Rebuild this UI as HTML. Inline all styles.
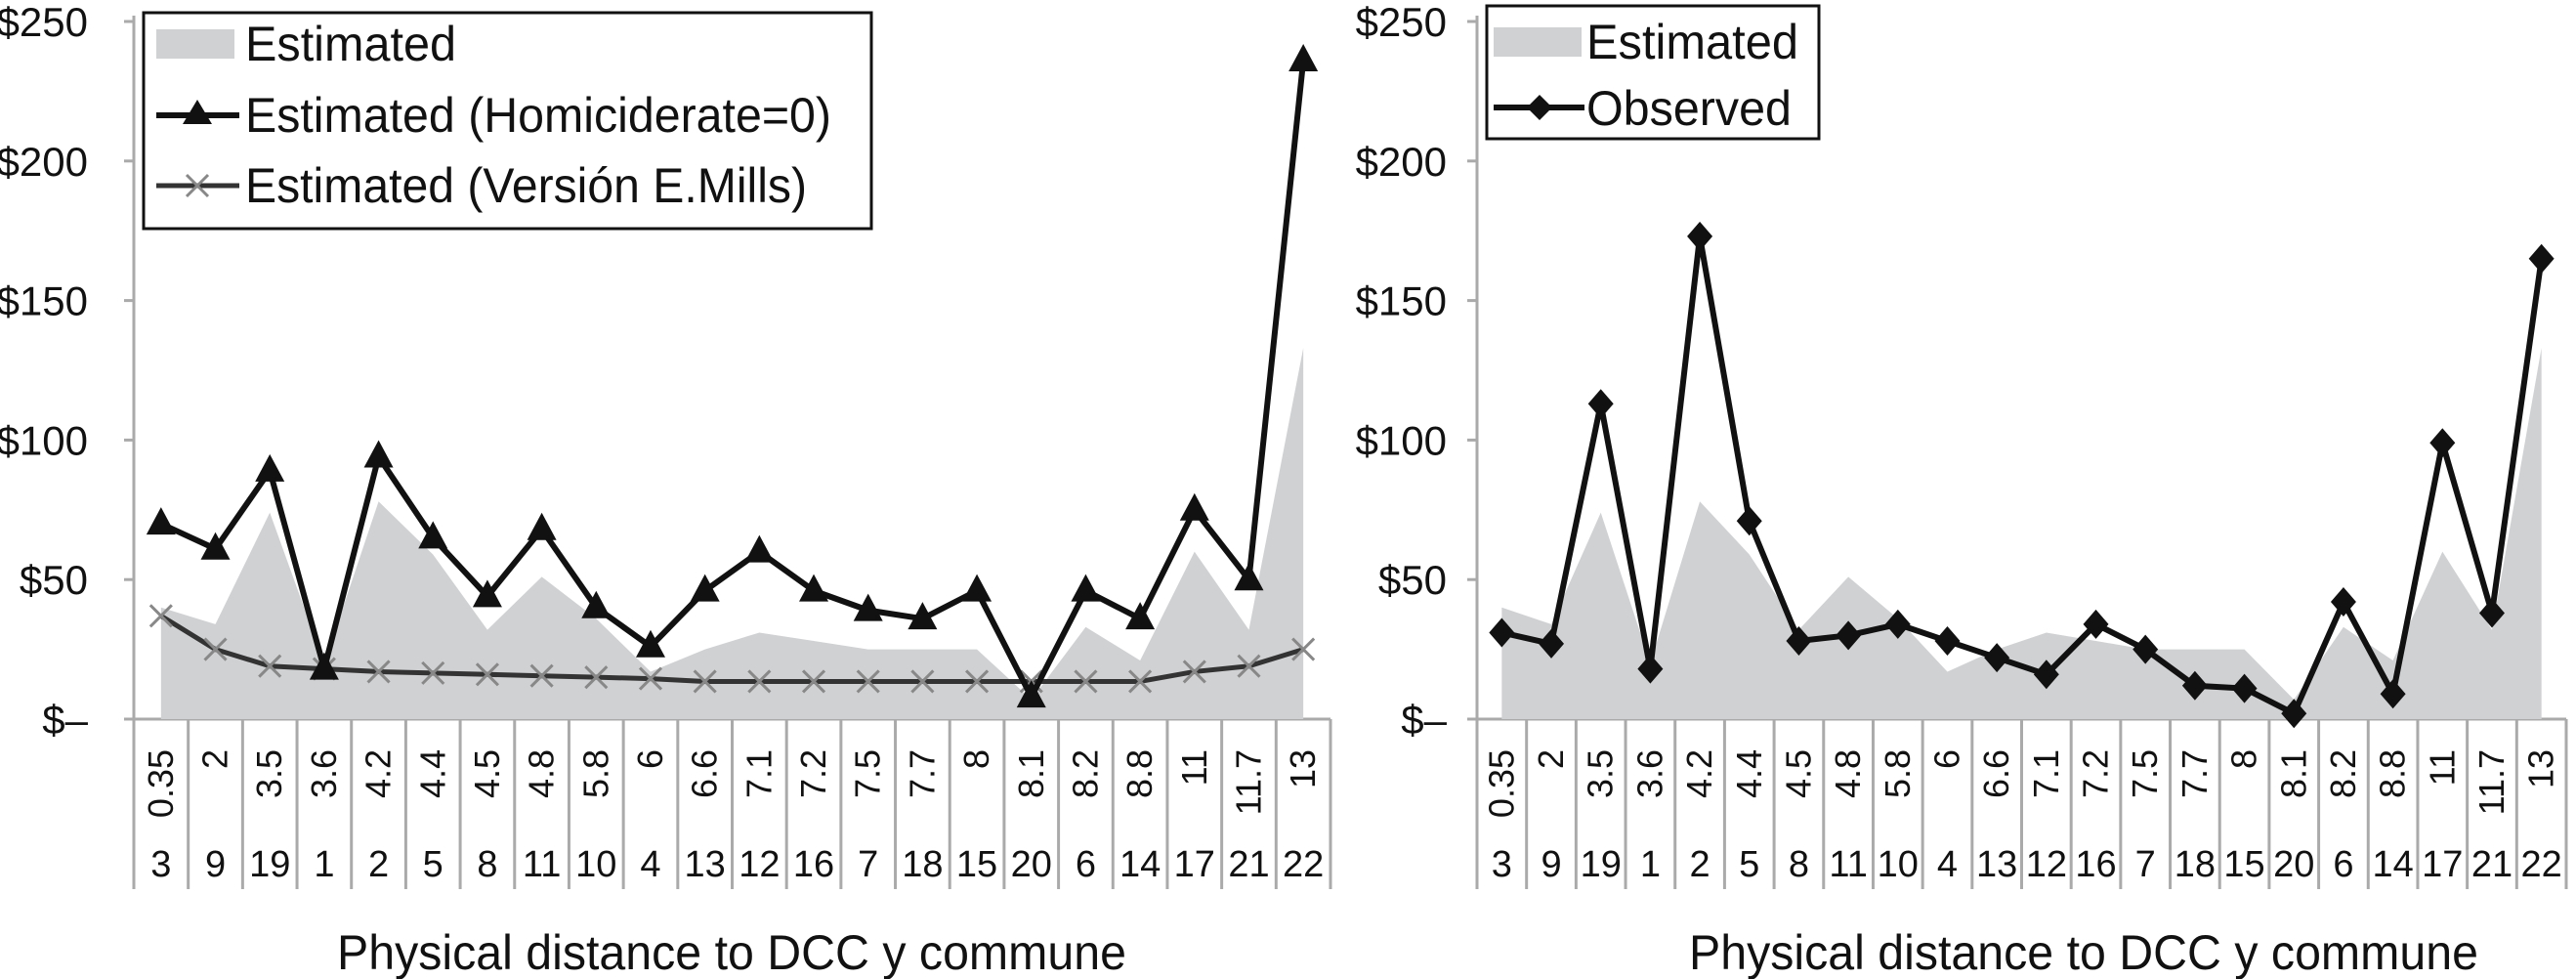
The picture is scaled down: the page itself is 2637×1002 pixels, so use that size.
<!DOCTYPE html>
<html><head><meta charset="utf-8"><style>
html,body{margin:0;padding:0;background:#fff;}
svg{display:block;font-family:"Liberation Sans",Arial,sans-serif;}
</style></head><body>
<svg id="chart" width="2637" height="1002" viewBox="0 0 2637 1002" xmlns="http://www.w3.org/2000/svg"></svg>
<script>
const distances = ["0.35","2","3.5","3.6","4.2","4.4","4.5","4.8","5.8","6","6.6","7.1","7.2","7.5","7.7","8","8.1","8.2","8.8","11","11.7","13"];
const communes = ["3","9","19","1","2","5","8","11","10","4","13","12","16","7","18","15","20","6","14","17","21","22"];
const estimated = [40,34,74,20,78,59,32,51,36,17,25,31,28,25,25,25,7,33,21,60,32,133];
const homicide0 = [70,61,89,18,94,65,44,68,40,26,46,60,46,39,36,46,8,46,36,75,50,236];
const mills = [37,25,19,18,17,16.5,16,15.5,15,14.5,13.5,13.5,13.5,13.5,13.5,13.5,13.5,13.5,13.5,17,19,25];
const observed = [31,27,113,18,173,71,28,30,34,28,22,16,34,25,12,11,2,42,9,99,38,165];
const yTicks = [0,50,100,150,200,250];
const yTickLabels = ["$\u2013","$50","$100","$150","$200","$250"];

const NS="http://www.w3.org/2000/svg";
const svg=document.getElementById('chart');
function mk(tag,attrs,parent){const e=document.createElementNS(NS,tag);for(const k in attrs)e.setAttribute(k,attrs[k]);(parent||svg).appendChild(e);return e;}
const Y0=736,Y250=22;
function yS(v){return Y0-(Y0-Y250)*v/250;}

function panel(px0,px1,labelRight,name){
  const g=mk('g',{});
  
  
  const n=distances.length, w=(px1-px0)/n;
  const xS=i=>px0+w*(i+0.5);
  const ax=mk('line',{x1:px0,y1:Y250-6,x2:px0,y2:Y0,stroke:'#aaa','stroke-width':3},g);
  
  yTicks.forEach((t,i)=>{
    mk('line',{x1:px0-10,y1:yS(t),x2:px0,y2:yS(t),stroke:'#aaa','stroke-width':3},g);
    const tx=mk('text',{x:labelRight,y:yS(t)+15,'font-size':42,'text-anchor':'end',fill:'#111'},g);
    tx.textContent=yTickLabels[i];
    
  });
  const xa=mk('line',{x1:px0,y1:Y0,x2:px1,y2:Y0,stroke:'#aaa','stroke-width':3},g);
  
  for(let i=0;i<=n;i++){mk('line',{x1:px0+w*i,y1:Y0,x2:px0+w*i,y2:910,stroke:'#aaa','stroke-width':3},g);}
  distances.forEach((d,i)=>{
    const t=mk('text',{transform:`translate(${xS(i)+12},767) rotate(-90)`,'font-size':36,'text-anchor':'end',fill:'#111'},g);
    t.textContent=d;
    
    const c=mk('text',{x:xS(i),y:897,'font-size':38,'text-anchor':'middle',fill:'#111'},g);
    c.textContent=communes[i];
    
  });
  let p=`M${xS(0)},${Y0}`;estimated.forEach((v,i)=>p+=` L${xS(i)},${yS(v)}`);p+=` L${xS(n-1)},${Y0} Z`;
  const a=mk('path',{d:p,fill:'#d0d1d3'},g);
  
  return {g,xS,w};
}
function line(g,vals,xS,stroke,sw,name){
  const pl=mk('polyline',{points:vals.map((v,i)=>`${xS(i)},${yS(v)}`).join(' '),fill:'none',stroke:stroke,'stroke-width':sw,'stroke-linejoin':'round'},g);
  
}
const L=panel(137,1362,90,'left-panel');
line(L.g,mills,L.xS,'#333',5,'mills-line');
mills.forEach((v,i)=>{const x=L.xS(i),y=yS(v),s=11;
  const m=mk('path',{d:`M${x-s},${y-s}L${x+s},${y+s}M${x-s},${y+s}L${x+s},${y-s}`,stroke:'#888','stroke-width':3},L.g);
  });
line(L.g,homicide0,L.xS,'#111',6,'homicide0-line');
homicide0.forEach((v,i)=>{const x=L.xS(i),y=yS(v);
  const m=mk('path',{d:`M${x},${y-17}L${x+15},${y+11}L${x-15},${y+11}Z`,fill:'#111'},L.g);
  });
const R=panel(1512,2627,1481,'right-panel');
line(R.g,observed,R.xS,'#111',6,'observed-line');
observed.forEach((v,i)=>{const x=R.xS(i),y=yS(v);
  const m=mk('path',{d:`M${x},${y-15}L${x+13},${y}L${x},${y+15}L${x-13},${y}Z`,fill:'#111'},R.g);
  });

function txt(x,y,s,fs,name,len){const t=mk('text',{x:x,y:y,'font-size':fs,fill:'#111'});if(len){t.setAttribute('textLength',len);t.setAttribute('lengthAdjust','spacingAndGlyphs');}t.textContent=s;
  return t;}
const lg=mk('rect',{x:147,y:13,width:745,height:221,fill:'#fff',stroke:'#111','stroke-width':3});

mk('rect',{x:160,y:30,width:80,height:30,fill:'#d0d1d3'});
txt(251,62,'Estimated',50,'legend-estimated',216);
mk('line',{x1:160,y1:118,x2:245,y2:118,stroke:'#111','stroke-width':6});
mk('path',{d:'M202,102L217,127L187,127Z',fill:'#111'});
txt(251,135,'Estimated (Homiciderate=0)',50,'legend-homicide0',600);
mk('line',{x1:160,y1:190,x2:245,y2:190,stroke:'#333','stroke-width':5});
mk('path',{d:'M191,179L213,201M191,201L213,179',stroke:'#888','stroke-width':3});
txt(251,207,'Estimated (Versión E.Mills)',50,'legend-mills',575);

const rg=mk('rect',{x:1522,y:6,width:340,height:136,fill:'#fff',stroke:'#111','stroke-width':3});

mk('rect',{x:1529,y:28,width:90,height:30,fill:'#d0d1d3'});
txt(1624,60,'Estimated',50,'legend-estimated-right',217);
mk('line',{x1:1529,y1:110,x2:1622,y2:110,stroke:'#111','stroke-width':6});
mk('path',{d:'M1576,97L1589,110L1576,123L1563,110Z',fill:'#111'});
txt(1624,128,'Observed',50,'legend-observed',210);

const t1=txt(749,992,'Physical distance to DCC y commune',50,'left-x-axis-title',808);t1.setAttribute('text-anchor','middle');
const t2=txt(2133,992,'Physical distance to DCC y commune',50,'right-x-axis-title',808);t2.setAttribute('text-anchor','middle');
</script>
</body></html>
